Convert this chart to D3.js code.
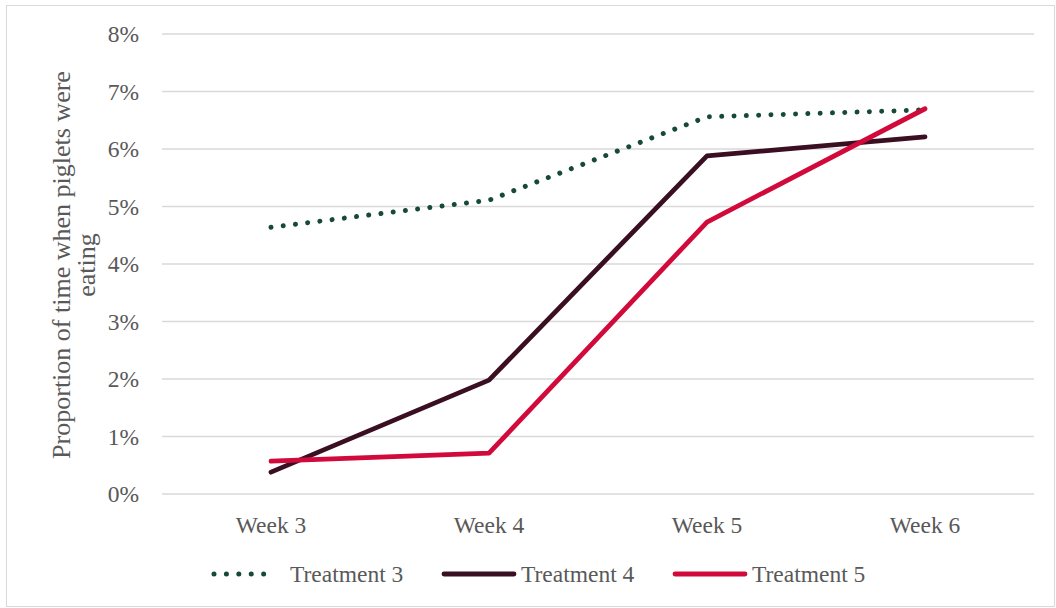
<!DOCTYPE html>
<html><head><meta charset="utf-8">
<script src="https://cdn.jsdelivr.net/npm/d3@7"></script>
<style>body{margin:0;background:#fff}svg{display:block}
svg text{font-family:"Liberation Serif","Times New Roman",serif !important;fill:#595959}</style>
</head><body>
<svg id="c" width="1056" height="608"></svg>
<script>
const categories = ["Week 3","Week 4","Week 5","Week 6"];
const treatment3 = [0.0464,0.0511,0.0656,0.0668];
const treatment4 = [0.0038,0.0198,0.0588,0.0621];
const treatment5 = [0.0057,0.0071,0.0473,0.0670];
const yTicks = [0,0.01,0.02,0.03,0.04,0.05,0.06,0.07,0.08];
const seriesNames = ["Treatment 3","Treatment 4","Treatment 5"];
const yTitle = ["Proportion of time when piglets were","eating"];

const series = [
  {name:seriesNames[0], values:treatment3, color:"#17493a", dotted:true},
  {name:seriesNames[1], values:treatment4, color:"#3a0f22", dotted:false},
  {name:seriesNames[2], values:treatment5, color:"#d10a3b", dotted:false}
];
const svg = d3.select("#c");
svg.append("rect").attr("x",6.5).attr("y",5.5).attr("width",1048).attr("height",601)
  .attr("fill","#fff").attr("stroke","#d9d9d9").attr("stroke-width",1);

const x = d3.scaleBand().domain(categories).range([162,1034]);
const y = d3.scaleLinear().domain([0,0.08]).range([494,34]);

const g = svg.append("g");
g.selectAll("line.grid").data(yTicks).join("line")
  .attr("x1",162).attr("x2",1034).attr("y1",d=>y(d)).attr("y2",d=>y(d))
  .attr("stroke","#d9d9d9").attr("stroke-width",1.3);

const yAxis = svg.append("g").attr("transform","translate(162,0)")
  .call(d3.axisLeft(y).tickValues(yTicks).tickFormat(d3.format(".0%")).tickSize(0).tickPadding(23));
yAxis.select(".domain").remove();
yAxis.selectAll("text").attr("font-size",23.5).attr("dy","0.33em");

const xAxis = svg.append("g").attr("transform","translate(0,494)")
  .call(d3.axisBottom(x).tickSize(0).tickPadding(22));
xAxis.select(".domain").remove();
xAxis.selectAll("text").attr("font-size",23.5);

const line = d3.line().x((d,i)=>x(categories[i])+x.bandwidth()/2).y(d=>y(d));
series.forEach(s=>{
  const p = svg.append("path").datum(s.values).attr("d",line).attr("fill","none")
    .attr("stroke",s.color).attr("stroke-width",s.dotted?5:4.8)
    .attr("stroke-linecap","round").attr("stroke-linejoin","round");
  if(s.dotted) p.attr("stroke-dasharray","0.01 12.3");
});

const t = svg.append("text").attr("transform","translate(0,265) rotate(-90)")
  .attr("font-size",26).attr("text-anchor","middle");
t.append("tspan").attr("x",0).attr("y",70).text(yTitle[0]);
t.append("tspan").attr("x",0).attr("y",95).text(yTitle[1]);

const legX = [214,444,675];
const legLen = [62,70,70];
const leg = svg.append("g");
series.forEach((s,i)=>{
  const gg = leg.append("g");
  const l = gg.append("line").attr("x1",legX[i]).attr("x2",legX[i]+legLen[i]).attr("y1",574).attr("y2",574)
    .attr("stroke",s.color).attr("stroke-width",s.dotted?5:4.8).attr("stroke-linecap","round");
  if(s.dotted) l.attr("stroke-dasharray","0.01 12.4");
  gg.append("text").attr("x",legX[i]+legLen[i]+(s.dotted?14:7)).attr("y",582).attr("font-size",23.5).text(s.name);
});
</script>
</body></html>
